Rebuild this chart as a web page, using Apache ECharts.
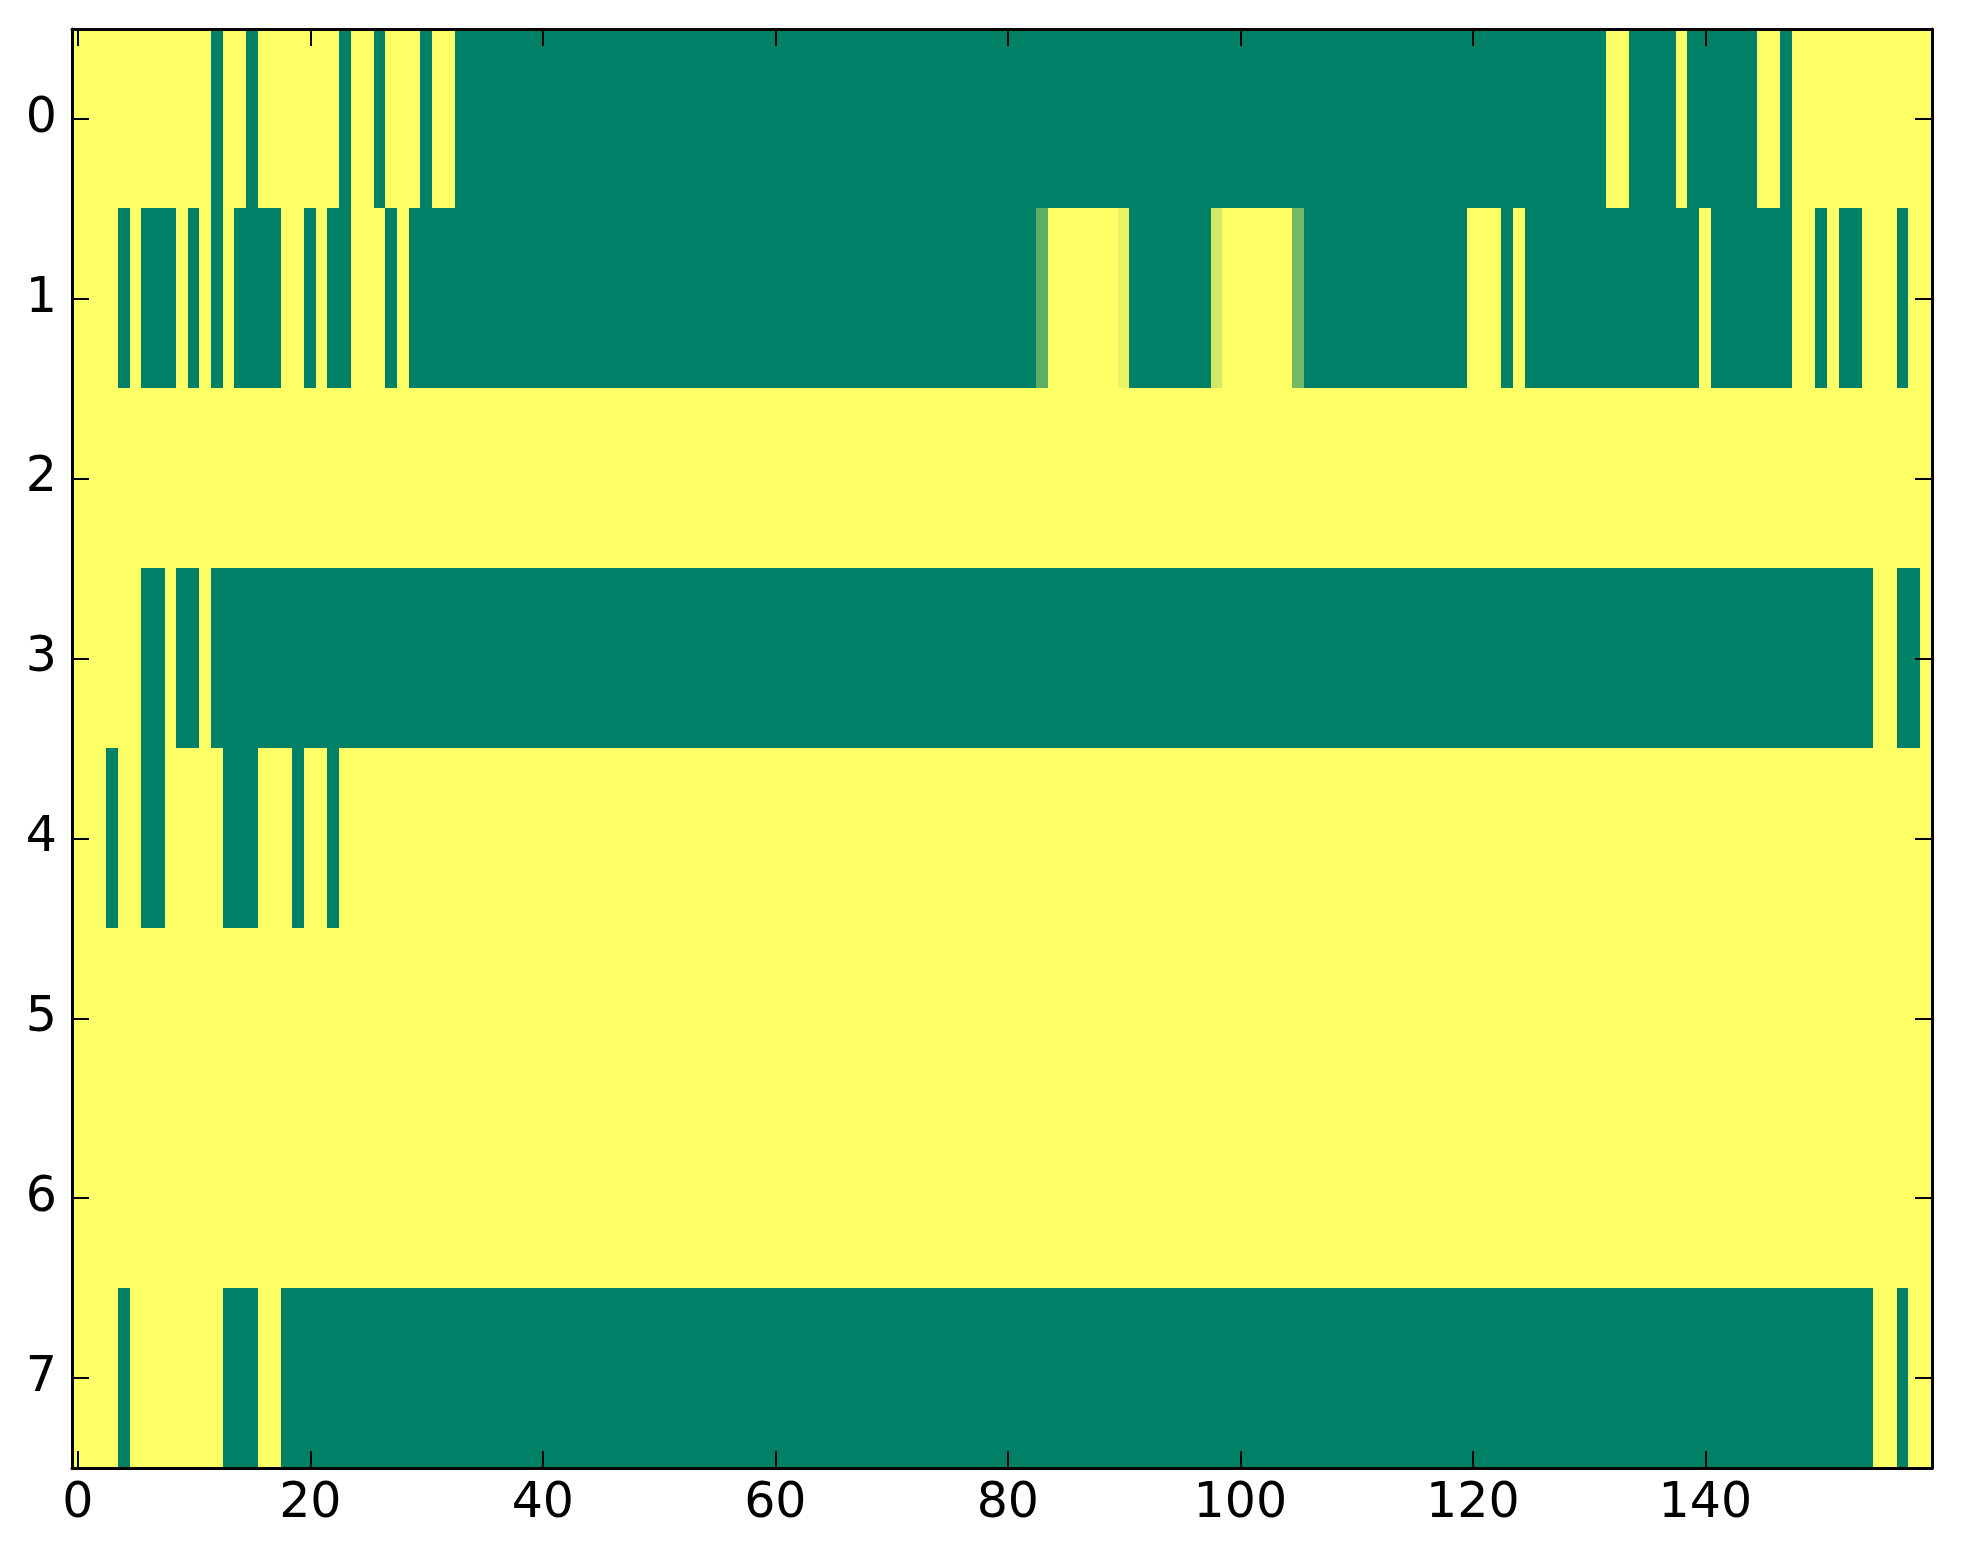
<!DOCTYPE html>
<html>
<head>
<meta charset="utf-8">
<script src="https://cdn.jsdelivr.net/npm/echarts@6/dist/echarts.min.js"></script>
<style>
  html, body { margin: 0; padding: 0; background: #fff; }
  #chart { width: 1963px; height: 1564px; }
</style>
</head>
<body>
<div id="chart"></div>
<script>
// 1 = yellow, 0 = green (summer colormap), one array per image row
const row0 = [
  1,1,1,1,1,1,1,1,1,1, 1,1,0,1,1,0,1,1,1,1,
  1,1,1,0,1,1,0,1,1,1, 0,1,1,0,0,0,0,0,0,0,
  0,0,0,0,0,0,0,0,0,0, 0,0,0,0,0,0,0,0,0,0,
  0,0,0,0,0,0,0,0,0,0, 0,0,0,0,0,0,0,0,0,0,
  0,0,0,0,0,0,0,0,0,0, 0,0,0,0,0,0,0,0,0,0,
  0,0,0,0,0,0,0,0,0,0, 0,0,0,0,0,0,0,0,0,0,
  0,0,0,0,0,0,0,0,0,0, 0,0,1,1,0,0,0,0,1,0,
  0,0,0,0,0,1,1,0,1,1, 1,1,1,1,1,1,1,1,1,1
];
const row1 = [
  1,1,1,1,0,1,0,0,0,1, 0,1,0,1,0,0,0,0,1,1,
  0,1,0,0,1,1,1,0,1,0, 0,0,0,0,0,0,0,0,0,0,
  0,0,0,0,0,0,0,0,0,0, 0,0,0,0,0,0,0,0,0,0,
  0,0,0,0,0,0,0,0,0,0, 0,0,0,0,0,0,0,0,0,0,
  0,0,0,0.37,1,1,1,1,1,1, 0.91,0,0,0,0,0,0,0,0.83,1,
  1,1,1,1,1,0.45,0,0,0,0, 0,0,0,0,0,0,0,0,0,0,
  1,1,1,0,1,0,0,0,0,0, 0,0,0,0,0,0,0,0,0,0,
  1,0,0,0,0,0,0,0,1,1, 0,1,0,0,1,1,1,0,1,1
];
const row2 = [
  1,1,1,1,1,1,1,1,1,1, 1,1,1,1,1,1,1,1,1,1,
  1,1,1,1,1,1,1,1,1,1, 1,1,1,1,1,1,1,1,1,1,
  1,1,1,1,1,1,1,1,1,1, 1,1,1,1,1,1,1,1,1,1,
  1,1,1,1,1,1,1,1,1,1, 1,1,1,1,1,1,1,1,1,1,
  1,1,1,1,1,1,1,1,1,1, 1,1,1,1,1,1,1,1,1,1,
  1,1,1,1,1,1,1,1,1,1, 1,1,1,1,1,1,1,1,1,1,
  1,1,1,1,1,1,1,1,1,1, 1,1,1,1,1,1,1,1,1,1,
  1,1,1,1,1,1,1,1,1,1, 1,1,1,1,1,1,1,1,1,1
];
const row3 = [
  1,1,1,1,1,1,0,0,1,0, 0,1,0,0,0,0,0,0,0,0,
  0,0,0,0,0,0,0,0,0,0, 0,0,0,0,0,0,0,0,0,0,
  0,0,0,0,0,0,0,0,0,0, 0,0,0,0,0,0,0,0,0,0,
  0,0,0,0,0,0,0,0,0,0, 0,0,0,0,0,0,0,0,0,0,
  0,0,0,0,0,0,0,0,0,0, 0,0,0,0,0,0,0,0,0,0,
  0,0,0,0,0,0,0,0,0,0, 0,0,0,0,0,0,0,0,0,0,
  0,0,0,0,0,0,0,0,0,0, 0,0,0,0,0,0,0,0,0,0,
  0,0,0,0,0,0,0,0,0,0, 0,0,0,0,0,1,1,0,0,1
];
const row4 = [
  1,1,1,0,1,1,0,0,1,1, 1,1,1,0,0,0,1,1,1,0,
  1,1,0,1,1,1,1,1,1,1, 1,1,1,1,1,1,1,1,1,1,
  1,1,1,1,1,1,1,1,1,1, 1,1,1,1,1,1,1,1,1,1,
  1,1,1,1,1,1,1,1,1,1, 1,1,1,1,1,1,1,1,1,1,
  1,1,1,1,1,1,1,1,1,1, 1,1,1,1,1,1,1,1,1,1,
  1,1,1,1,1,1,1,1,1,1, 1,1,1,1,1,1,1,1,1,1,
  1,1,1,1,1,1,1,1,1,1, 1,1,1,1,1,1,1,1,1,1,
  1,1,1,1,1,1,1,1,1,1, 1,1,1,1,1,1,1,1,1,1
];
const row5 = [
  1,1,1,1,1,1,1,1,1,1, 1,1,1,1,1,1,1,1,1,1,
  1,1,1,1,1,1,1,1,1,1, 1,1,1,1,1,1,1,1,1,1,
  1,1,1,1,1,1,1,1,1,1, 1,1,1,1,1,1,1,1,1,1,
  1,1,1,1,1,1,1,1,1,1, 1,1,1,1,1,1,1,1,1,1,
  1,1,1,1,1,1,1,1,1,1, 1,1,1,1,1,1,1,1,1,1,
  1,1,1,1,1,1,1,1,1,1, 1,1,1,1,1,1,1,1,1,1,
  1,1,1,1,1,1,1,1,1,1, 1,1,1,1,1,1,1,1,1,1,
  1,1,1,1,1,1,1,1,1,1, 1,1,1,1,1,1,1,1,1,1
];
const row6 = [
  1,1,1,1,1,1,1,1,1,1, 1,1,1,1,1,1,1,1,1,1,
  1,1,1,1,1,1,1,1,1,1, 1,1,1,1,1,1,1,1,1,1,
  1,1,1,1,1,1,1,1,1,1, 1,1,1,1,1,1,1,1,1,1,
  1,1,1,1,1,1,1,1,1,1, 1,1,1,1,1,1,1,1,1,1,
  1,1,1,1,1,1,1,1,1,1, 1,1,1,1,1,1,1,1,1,1,
  1,1,1,1,1,1,1,1,1,1, 1,1,1,1,1,1,1,1,1,1,
  1,1,1,1,1,1,1,1,1,1, 1,1,1,1,1,1,1,1,1,1,
  1,1,1,1,1,1,1,1,1,1, 1,1,1,1,1,1,1,1,1,1
];
const row7 = [
  1,1,1,1,0,1,1,1,1,1, 1,1,1,0,0,0,1,1,0,0,
  0,0,0,0,0,0,0,0,0,0, 0,0,0,0,0,0,0,0,0,0,
  0,0,0,0,0,0,0,0,0,0, 0,0,0,0,0,0,0,0,0,0,
  0,0,0,0,0,0,0,0,0,0, 0,0,0,0,0,0,0,0,0,0,
  0,0,0,0,0,0,0,0,0,0, 0,0,0,0,0,0,0,0,0,0,
  0,0,0,0,0,0,0,0,0,0, 0,0,0,0,0,0,0,0,0,0,
  0,0,0,0,0,0,0,0,0,0, 0,0,0,0,0,0,0,0,0,0,
  0,0,0,0,0,0,0,0,0,0, 0,0,0,0,0,1,1,0,1,1
];
const rows = [row0, row1, row2, row3, row4, row5, row6, row7];

const rowLabels = ['0', '1', '2', '3', '4', '5', '6', '7'];
const xTickLabels = ['0', '20', '40', '60', '80', '100', '120', '140'];
const columns = row0.map((v, i) => String(i));

let cells = [];
rows.forEach((row, y) => {
    row.forEach((v, x) => {
        cells.push([x, y, v]);
    });
});

const FONT = 'DejaVu Sans';
const showTick = (index) => xTickLabels.indexOf(String(index)) >= 0;

function xAxisSet(position, withLabels) {
    return {
        type: 'category',
        position,
        data: columns,
        boundaryGap: true,
        z: 10,
        axisLine: { show: true, onZero: false, lineStyle: { color: '#000', width: 3 } },
        axisTick: { show: true, inside: true, length: 17, alignWithLabel: true, interval: showTick, lineStyle: { color: '#000', width: 2 } },
        axisLabel: { show: withLabels, interval: showTick, color: '#000', fontSize: 49, fontFamily: FONT, margin: 12 },
        splitLine: { show: false }
    };
}

function yAxisSet(position, withLabels) {
    return {
        type: 'category',
        position,
        data: rowLabels,
        inverse: true,
        boundaryGap: true,
        z: 10,
        axisLine: { show: true, onZero: false, lineStyle: { color: '#000', width: 3 } },
        axisTick: { show: true, inside: true, length: 17, alignWithLabel: true, lineStyle: { color: '#000', width: 2 } },
        axisLabel: { show: withLabels, color: '#000', fontSize: 49, fontFamily: FONT, margin: 15 },
        splitLine: { show: false }
    };
}

// each cell is drawn one pixel wider/taller so neighbours overlap and no seams show
function renderCell(params, api) {
    let center = api.coord([api.value(0), api.value(1)]);
    let size = api.size([1, 1]);
    let x0 = Math.floor(center[0] - size[0] / 2);
    let y0 = Math.floor(center[1] - size[1] / 2);
    let x1 = Math.ceil(center[0] + size[0] / 2) + 1;
    let y1 = Math.ceil(center[1] + size[1] / 2) + 1;
    return {
        type: 'rect',
        shape: { x: x0, y: y0, width: x1 - x0, height: y1 - y0 },
        style: { fill: api.visual('color') },
        silent: true
    };
}

let myChart = echarts.init(document.getElementById('chart'), null, { renderer: 'canvas' });
myChart.setOption({
    animation: false,
    backgroundColor: '#fff',
    grid: { left: 72, right: 31, top: 29, bottom: 96, containLabel: false },
    xAxis: [xAxisSet('bottom', true), xAxisSet('top', false)],
    yAxis: [yAxisSet('left', true), yAxisSet('right', false)],
    visualMap: {
        show: false,
        min: 0,
        max: 1,
        dimension: 2,
        seriesIndex: 0,
        inRange: { color: ['#008066', '#ffff66'] }
    },
    series: [{
        type: 'custom',
        xAxisIndex: 0,
        yAxisIndex: 0,
        z: 1,
        clip: true,
        renderItem: renderCell,
        encode: { x: 0, y: 1 },
        data: cells
    }]
});
</script>
</body>
</html>
